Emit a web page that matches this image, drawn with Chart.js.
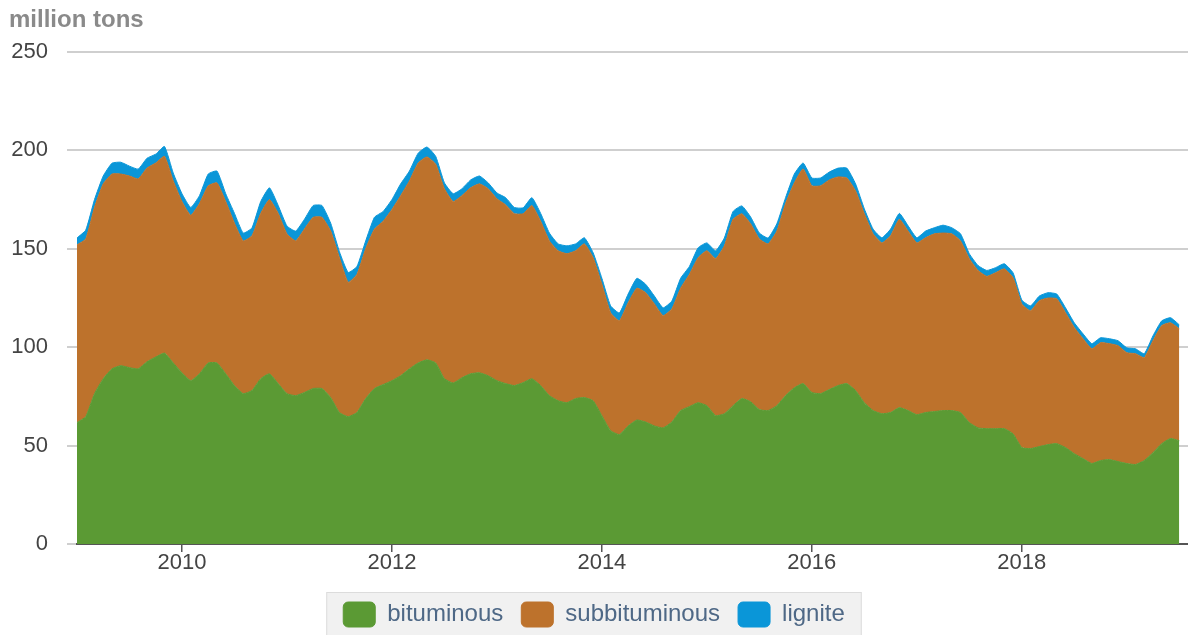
<!DOCTYPE html>
<html>
<head>
<meta charset="utf-8">
<script src="https://cdn.jsdelivr.net/npm/chart.js@4"></script>
<style>
  html, body { margin: 0; padding: 0; background: #fff; }
</style>
</head>
<body>
<canvas id="coal-chart" width="1188" height="635"></canvas>
<script>
// Monthly series, Jan 2009 - Jul 2019 (million tons)
const startYear = 2009;
const monthCount = 127;
const yearTicks = [2010, 2012, 2014, 2016, 2018];
const yTicks = [0, 50, 100, 150, 200, 250];

const bituminous = [
  61.7, 64.7, 76.4, 84, 89, 90.6, 89.6, 89, 92.6, 95, 97, 92,
  87, 83, 86.5, 92, 92, 86.5, 80.5, 76.4, 78, 84, 86.5, 81.5,
  76.4, 75.4, 77, 79, 79, 74.4, 66.8, 64.7, 66.8, 73.9, 79, 81,
  83, 85.5, 89, 92, 93.6, 92, 84, 81.8, 84.5, 86.5, 87, 85.5,
  83, 81.5, 80.5, 82, 84, 80.5, 75.4, 72.8, 71.8, 73.9, 74.4, 72.8,
  65.2, 57.6, 55.6, 60, 63, 62, 60, 59, 62, 67.8, 69.8, 71.8,
  70.3, 65.2, 66.2, 70.3, 73.9, 72.3, 68.3, 67.8, 70.3, 75.4, 79.4, 81.5,
  77, 76.4, 78.5, 80.5, 81.5, 78, 71.8, 67.8, 66.2, 66.8, 69.3, 67.8,
  65.7, 66.8, 67.3, 67.8, 67.8, 66.8, 61.7, 59, 58.6, 58.6, 58.6, 56,
  49, 48.5, 49.5, 50.5, 51, 49, 45.9, 43.4, 40.9, 42.4, 42.9, 41.9,
  40.9, 40.4, 42.4, 46.4, 51, 53.6, 52.5
];
const subbituminous = [
  90.3, 90.3, 94.6, 99, 99, 97.4, 97.4, 96.5, 98.4, 98.6, 100, 92.5,
  87, 84, 86.5, 90, 91.5, 87.5, 82.5, 77.6, 78.6, 84, 88.5, 86.5,
  81.2, 78.6, 83, 87, 87, 84.6, 78.7, 68.3, 70.2, 76.1, 81, 83,
  87, 91.5, 95.5, 101.6, 103.1, 101, 96.5, 92.2, 92.5, 94.5, 96, 95,
  92.4, 90.8, 87.3, 85.8, 88, 83.5, 78.6, 76.2, 75.7, 75.1, 78.1, 72.7,
  66.8, 59.9, 57.8, 62.6, 67, 65.7, 62, 57, 57.5, 62.2, 67.2, 73.7,
  78.7, 79.8, 85.3, 94.7, 93.9, 90.4, 86.7, 84.7, 88.7, 97.6, 104.1, 109.1,
  105, 105.6, 106.5, 106, 104.5, 101.4, 96, 89.8, 86.8, 89.8, 95.7, 91.2,
  87.3, 88.8, 90.3, 90.2, 89.8, 87.2, 83.3, 80, 77.4, 79.2, 81.2, 79.3,
  73, 70, 74.1, 74.5, 73.6, 68.5, 64.1, 60.9, 58.3, 59.9, 58.9, 58.9,
  56.3, 56.3, 52.3, 56.9, 60, 58.8, 56.9
];
const lignite = [
  3.5, 4.5, 4, 4, 5.5, 6, 5, 5, 5, 4.5, 5, 4,
  4, 4, 4, 6, 6, 4, 5, 4, 4, 6, 6, 4,
  4, 5, 5, 6, 6, 4, 3, 5, 4, 4, 6, 5,
  5, 6, 5, 5, 5, 4, 3, 4, 3.5, 4, 4, 3,
  3, 3.7, 3.2, 3, 4, 4, 4, 3.5, 4, 3.5, 3.1, 2.5,
  3, 3.5, 4, 4.4, 5, 4.3, 4, 4, 4, 5, 4, 5,
  4, 4, 4, 4, 4, 3.5, 3, 3, 3.7, 3, 4.5, 3,
  4, 4, 4, 4.5, 5, 3.6, 2.5, 2.4, 2.6, 3.4, 3, 2.7,
  2.6, 3.4, 3.1, 4, 3.1, 3.6, 2.5, 2.5, 3, 2.6, 2.6, 2.5,
  2, 2.5, 2.4, 2.7, 2.4, 2.5, 2.4, 2.5, 2.6, 2.5, 2.5, 2.5,
  2.5, 2.5, 2, 2.5, 2.4, 2.6, 2
];

// x position of each month as a decimal year
const months = [];
for (let i = 0; i < monthCount; i++) months.push(startYear + i / 12);

function toPoints(values) {
  return values.map((v, i) => ({ x: months[i], y: v }));
}

function series(label, values, color, fill) {
  return {
    label: label,
    data: toPoints(values),
    backgroundColor: color,
    borderColor: color,
    borderWidth: 1,
    pointRadius: 0,
    tension: 0.15,
    fill: fill
  };
}

// fundo cinza da legenda
const legendBackground = {
  id: 'legendBackground',
  beforeDraw(chart) {
    const lg = chart.legend;
    if (!lg || !lg.legendHitBoxes.length) return;
    const boxes = lg.legendHitBoxes;
    const left = Math.min(...boxes.map(b => b.left)) - 17;
    const right = Math.max(...boxes.map(b => b.left + b.width)) + 17;
    const top = lg.top + 8;
    const ctx = chart.ctx;
    ctx.save();
    ctx.fillStyle = '#f1f1f1';
    ctx.fillRect(left, top, right - left, chart.height - top + 2);
    ctx.strokeStyle = '#dcdcdc';
    ctx.lineWidth = 1;
    ctx.strokeRect(left + 0.5, top + 0.5, right - left - 1, chart.height - top + 2);
    ctx.restore();
  }
};

const unitTitle = {
  id: 'unitTitle',
  afterDraw(chart) {
    const ctx = chart.ctx;
    ctx.save();
    ctx.font = 'bold 24px "Liberation Sans", Arial, sans-serif';
    ctx.fillStyle = '#8a8a8a';
    ctx.textAlign = 'left';
    ctx.textBaseline = 'alphabetic';
    ctx.fillText('million tons', 9, 27);
    ctx.restore();
  }
};

const config = {
  type: 'line',
  data: {
    datasets: [
      series('bituminous', bituminous, '#5b9a34', 'origin'),
      series('subbituminous', subbituminous, '#bd722c', '-1'),
      series('lignite', lignite, '#0a96d8', '-1')
    ]
  },
  options: {
    responsive: false,
    devicePixelRatio: 1,
    animation: false,
    layout: { padding: { top: 52, left: 0, right: 0, bottom: -2 } },
    plugins: {
      tooltip: { enabled: false },
      legend: {
        position: 'bottom',
        labels: {
          boxWidth: 32,
          boxHeight: 25,
          useBorderRadius: true,
          borderRadius: 5,
          padding: 18,
          color: '#4e6886',
          font: { family: '"Liberation Sans", Arial, sans-serif', size: 24 }
        }
      }
    },
    scales: {
      x: {
        type: 'linear',
        min: startYear,
        max: startYear + monthCount / 12,
        afterBuildTicks: s => { s.ticks = yearTicks.map(v => ({ value: v })); },
        afterFit: s => { s.height = 40; },
        ticks: {
          callback: v => String(v),
          color: '#444',
          padding: 0,
          maxRotation: 0,
          autoSkip: false,
          font: { family: '"Liberation Sans", Arial, sans-serif', size: 22, lineHeight: 1 }
        },
        grid: { drawOnChartArea: false, drawTicks: true, tickLength: 8, color: '#555', lineWidth: 1.5 },
        border: { color: '#555', width: 2 }
      },
      y: {
        stacked: true,
        min: 0,
        max: 250,
        afterBuildTicks: s => { s.ticks = yTicks.map(v => ({ value: v })); },
        afterFit: s => { s.width = 77; },
        ticks: {
          color: '#444',
          padding: 19,
          font: { family: '"Liberation Sans", Arial, sans-serif', size: 22 }
        },
        grid: { color: '#cfcfcf', lineWidth: 2, tickLength: 10 },
        border: { display: false }
      }
    }
  },
  plugins: [legendBackground, unitTitle]
};

window.onload = function () {
  const ctx = document.getElementById('coal-chart').getContext('2d');
  new Chart(ctx, config);
};
</script>
</body>
</html>
